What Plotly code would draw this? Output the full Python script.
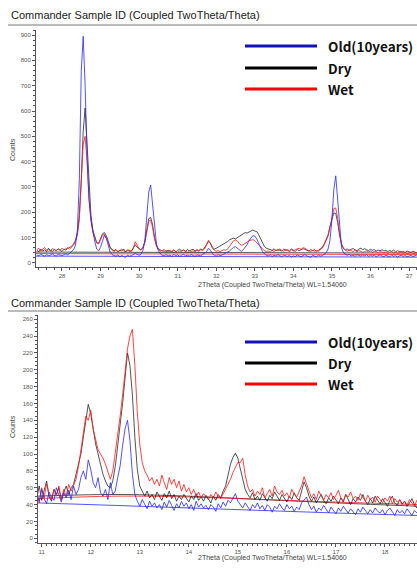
import numpy as np
import plotly.graph_objects as go

W, H = 417, 568
TITLE = "Commander Sample ID (Coupled TwoTheta/Theta)"
X_TITLE = "2Theta (Coupled TwoTheta/Theta) WL=1.54060"
Y_TITLE = "Counts"
SERIES = ["Old(10years)", "Dry", "Wet"]

# ---------------- top panel (2theta 27.35 .. 37.2, step 0.05) ----------------
top_start, top_step = 27.35, 0.05
top_old = [
    32, 28, 35, 30, 26, 33, 29, 31, 36, 30,
    27, 34, 31, 29, 33, 36, 32, 38, 44, 52,
    70, 130, 330, 760, 895, 700, 420, 250, 170, 120,
    85, 55, 48, 62, 90, 110, 96, 65, 42, 33,
    30, 26, 32, 24, 29, 27, 22, 31, 26, 29,
    33, 38, 34, 30, 35, 50, 90, 170, 280, 308,
    230, 130, 75, 48, 36, 30, 28, 33, 27, 31,
    25, 34, 29, 32, 26, 30, 35, 28, 31, 27,
    33, 29, 26, 32, 30, 28, 35, 38, 45, 58,
    50, 37, 30, 27, 33, 29, 31, 35, 38, 42,
    48, 55, 62, 64, 58, 50, 46, 52, 60, 72,
    88, 100, 108, 106, 95, 78, 60, 45, 36, 30,
    28, 32, 25, 30, 27, 33, 29, 24, 31, 28,
    26, 30, 23, 28, 25, 32, 27, 24, 29, 33,
    28, 25, 22, 30, 26, 24, 31, 27, 29, 33,
    40, 55, 90, 170, 290, 344, 250, 120, 60, 40,
    33, 30, 34, 28, 31, 26, 33, 29, 27, 32,
    28, 33, 26, 30, 27, 31, 24, 29, 32, 27,
    25, 30, 28, 24, 31, 26, 29, 23, 28, 30,
    26, 29, 24, 27, 30, 25, 28, 31, 26, 28,
]
top_dry = [
    50, 44, 55, 47, 52, 45, 58, 49, 46, 53,
    48, 56, 50, 45, 54, 51, 57, 60, 66, 75,
    90, 120, 190, 330, 520, 612, 470, 300, 190, 130,
    100, 80, 78, 95, 115, 120, 108, 85, 62, 52,
    48, 53, 45, 50, 47, 55, 44, 52, 49, 46,
    58, 72, 62, 55, 52, 62, 85, 130, 175, 180,
    150, 100, 70, 56, 50, 47, 53, 45, 50, 48,
    46, 52, 44, 49, 55, 47, 51, 45, 53, 48,
    50, 54, 47, 52, 49, 55, 51, 60, 72, 85,
    78, 62, 55, 58, 62, 66, 70, 75, 80, 85,
    92, 96, 98, 95, 100, 105, 110, 115, 120, 118,
    122, 128, 130, 126, 124, 112, 95, 80, 65, 58,
    55, 52, 50, 56, 48, 53, 51, 47, 54, 50,
    52, 48, 55, 50, 46, 53, 49, 52, 56, 54,
    50, 47, 53, 49, 52, 46, 50, 55, 62, 75,
    90, 110, 145, 175, 198, 195, 160, 110, 75, 58,
    52, 55, 50, 54, 57, 52, 48, 55, 58, 53,
    56, 52, 49, 54, 50, 53, 47, 51, 48, 52,
    47, 50, 45, 49, 46, 51, 44, 48, 46, 43,
    45, 42, 47, 44, 41, 46, 43, 40, 44, 42,
]
top_wet = [
    52, 58, 47, 55, 61, 50, 54, 46, 57, 53,
    49, 55, 51, 58, 52, 56, 60, 55, 62, 70,
    85, 110, 170, 300, 470, 500, 400, 260, 170, 120,
    95, 78, 75, 90, 108, 115, 100, 80, 58, 50,
    46, 52, 44, 49, 55, 47, 42, 50, 45, 48,
    60, 84, 70, 56, 50, 60, 80, 120, 165, 170,
    140, 95, 66, 52, 46, 50, 44, 49, 45, 47,
    43, 50, 46, 41, 48, 44, 52, 46, 42, 49,
    45, 48, 43, 50, 46, 52, 49, 56, 70, 90,
    78, 58, 50, 46, 49, 45, 48, 52, 50, 56,
    66, 80, 88, 91, 86, 76, 70, 72, 78, 84,
    88, 90, 92, 88, 80, 70, 60, 52, 48, 45,
    47, 43, 50, 45, 52, 48, 55, 50, 46, 53,
    49, 45, 51, 47, 52, 55, 58, 54, 60, 58,
    52, 48, 45, 50, 46, 49, 47, 52, 58, 72,
    88, 105, 140, 185, 215, 217, 175, 115, 72, 55,
    50, 46, 52, 48, 45, 50, 44, 49, 46, 42,
    45, 48, 43, 47, 41, 46, 44, 40, 45, 42,
    40, 44, 38, 42, 45, 39, 43, 37, 41, 44,
    38, 42, 36, 40, 43, 37, 39, 41, 35, 38,
]
top_bg_x = [27.3, 37.3]
top_bg_old = [27, 23]
top_bg_dry = [43, 39]
top_bg_wet = [37, 33]

# ---------------- bottom panel (2theta 10.90 .. 18.85, step 0.05) ----------------
bot_start, bot_step = 10.90, 0.05
bot_old = [
    52, 44, 58, 47, 41, 55, 49, 45, 60, 50,
    43, 54, 48, 57, 46, 62, 52, 58, 72, 80,
    70, 93, 82, 66, 60, 72, 54, 50, 58, 46,
    66, 52, 56, 72, 86, 110, 130, 140, 116, 76,
    52, 44, 38, 46, 40, 35, 44, 38, 42, 36,
    40, 34, 43, 37, 45, 39, 33, 41, 36, 44,
    38, 42, 35, 40, 33, 44, 37, 41, 36, 39,
    34, 40, 37, 32, 41, 36, 43, 38, 45, 42,
    48, 53, 44, 40, 36, 42, 38, 33, 40, 36,
    42, 35, 39, 33, 40, 37, 31, 38, 35, 41,
    36, 33, 40, 35, 38, 32, 37, 34, 42, 45,
    49, 40, 34, 38, 31, 36, 33, 39, 35, 30,
    37, 33, 29, 36, 32, 38, 34, 30, 35, 31,
    28, 35, 31, 37, 33, 29, 34, 30, 36, 32,
    30, 34, 28, 33, 36, 31, 27, 34, 30, 33,
    29, 35, 31, 27, 33, 30, 34, 28, 32, 30,
]
bot_dry = [
    48, 62, 45, 55, 68, 50, 44, 58, 52, 60,
    47, 55, 62, 52, 60, 64, 75, 88, 100, 120,
    140, 159, 148, 128, 112, 100, 88, 76, 68, 62,
    60, 68, 85, 110, 132, 160, 190, 220, 205, 170,
    120, 82, 62, 55, 50, 56, 48, 52, 46, 55,
    50, 45, 53, 48, 56, 47, 52, 44, 50, 46,
    52, 47, 43, 50, 46, 53, 45, 49, 44, 51,
    47, 42, 50, 45, 52, 48, 56, 62, 75, 88,
    96, 101, 95, 82, 68, 58, 52, 48, 54, 46,
    50, 45, 53, 48, 44, 51, 47, 55, 49, 45,
    52, 47, 43, 50, 46, 54, 48, 45, 58, 67,
    60, 50, 44, 49, 42, 47, 52, 45, 41, 48,
    44, 50, 46, 41, 48, 43, 52, 46, 40, 47,
    43, 49, 45, 52, 44, 40, 47, 42, 50, 45,
    41, 47, 43, 38, 45, 50, 42, 39, 46, 41,
    44, 38, 42, 47, 40, 36, 43, 39, 41, 40,
]
bot_wet = [
    55, 42, 60, 48, 65, 52, 46, 58, 50, 62,
    45, 58, 50, 64, 56, 62, 70, 85, 105, 130,
    145, 140, 152, 130, 118, 105, 100, 95, 88, 80,
    70, 80, 100, 120, 145, 170, 200, 225, 240, 248,
    205, 150, 112, 90, 80, 75, 68, 72, 64, 70,
    62, 75, 66, 58, 72, 64, 70, 60, 68, 56,
    64, 55, 60, 52, 58, 50, 55, 48, 53, 50,
    46, 52, 48, 55, 50, 47, 53, 58, 64, 70,
    78, 85, 90, 90, 95, 75, 62, 55, 58, 50,
    56, 52, 60, 48, 54, 58, 50, 62, 55, 52,
    57, 50, 54, 48, 58, 52, 49, 55, 62, 73,
    65, 55, 48, 53, 46, 56, 50, 45, 52, 48,
    54, 46, 51, 57, 48, 44, 52, 49, 55, 47,
    50, 45, 53, 48, 44, 51, 46, 49, 43, 50,
    46, 42, 48, 44, 50, 41, 47, 43, 45, 40,
    44, 39, 46, 42, 38, 45, 41, 43, 40, 42,
]
bot_bg_x = [10.9, 12.5, 14.0, 15.5, 17.0, 18.7]
bot_bg_old = [42, 39, 36, 33, 30, 27]
bot_bg_dry = [50, 52, 50, 46, 42, 38]
bot_bg_wet = [47, 50, 49, 46, 43, 40]

COL_OLD = "rgba(40,40,255,0.8)"
COL_DRY = "rgba(25,25,25,0.75)"
COL_WET = "rgba(255,25,25,0.8)"
LEG_COLS = ["#1010c0", "#000000", "#ff0000"]


def px(x):
    return x / W


def py(y):
    return 1 - y / H


def grid(start, step, vals):
    return np.round(start + step * np.arange(len(vals)), 3)


fig = go.Figure()

panels = [
    ("x", "y", top_start, top_step, top_old, top_dry, top_wet,
     top_bg_x, top_bg_old, top_bg_dry, top_bg_wet, "linear"),
    ("x2", "y2", bot_start, bot_step, bot_old, bot_dry, bot_wet,
     bot_bg_x, bot_bg_old, bot_bg_dry, bot_bg_wet, "spline"),
]
for xa, ya, s, st, o, d, w, bx, bo, bd, bw, shp in panels:
    for vals, col in [(bd, COL_DRY), (bw, COL_WET), (bo, COL_OLD)]:
        fig.add_trace(go.Scatter(x=bx, y=vals, mode="lines", xaxis=xa, yaxis=ya,
                                 line=dict(color=col, width=1, shape=shp),
                                 showlegend=False, hoverinfo="skip"))
    for name, vals, col in [("Dry", d, COL_DRY), ("Wet", w, COL_WET), ("Old(10years)", o, COL_OLD)]:
        fig.add_trace(go.Scatter(x=grid(s, st, vals), y=vals, mode="lines", name=name,
                                 xaxis=xa, yaxis=ya, line=dict(color=col, width=1),
                                 showlegend=False))

tickfont = dict(family="Liberation Sans, Arial", size=6, color="#555")
axis_common = dict(showgrid=False, zeroline=False, showline=True, linecolor="#555",
                   linewidth=1, ticks="outside", ticklen=3, tickcolor="#555",
                   tickfont=tickfont)

fig.update_layout(
    width=W, height=H, margin=dict(l=0, r=0, t=0, b=0),
    paper_bgcolor="white", plot_bgcolor="white", showlegend=False,
    xaxis=dict(domain=[px(36), 1.0], range=[27.326, 37.207], anchor="y",
               dtick=1, minor=dict(dtick=0.2, ticklen=2, tickcolor="#555", ticks="outside"),
               **axis_common),
    yaxis=dict(domain=[py(267), py(30)], range=[-16, 920], anchor="x",
               dtick=100, minor=dict(dtick=20, ticklen=2, tickcolor="#555", ticks="outside"),
               **axis_common),
    xaxis2=dict(domain=[px(38), 1.0], range=[10.925, 18.653], anchor="y2",
                dtick=1, minor=dict(dtick=0.1, ticklen=2, tickcolor="#555", ticks="outside"),
                **axis_common),
    yaxis2=dict(domain=[py(543), py(315)], range=[-5.6, 265], anchor="x2",
                dtick=20, minor=dict(dtick=5, ticklen=2, tickcolor="#555", ticks="outside"),
                **axis_common),
)

shapes = []
annots = []
for title_y, line_y, leg_ys, ytitle_y, xtitle_y in [
    (15, 25, [46, 68, 89], 150, 285),
    (303, 311, [342, 363, 384], 427, 558),
]:
    annots.append(dict(text=TITLE, x=px(9), y=py(title_y), xref="paper", yref="paper",
                       xanchor="left", yanchor="middle", showarrow=False,
                       font=dict(family="Liberation Sans, Arial", size=11, color="#222")))
    shapes.append(dict(type="line", xref="paper", yref="paper", x0=px(8), x1=1.0,
                       y0=py(line_y), y1=py(line_y), line=dict(color="#777", width=1)))
    for name, col, ly in zip(SERIES, LEG_COLS, leg_ys):
        shapes.append(dict(type="line", xref="paper", yref="paper", x0=px(245), x1=px(317),
                           y0=py(ly), y1=py(ly), line=dict(color=col, width=3)))
        annots.append(dict(text="<b>%s</b>" % name, x=px(326), y=py(ly), xref="paper",
                           yref="paper", xanchor="left", yanchor="middle", showarrow=False,
                           font=dict(family="Noto Sans CJK KR, Noto Sans", size=13.5, color="#111")))
    annots.append(dict(text=Y_TITLE, x=px(12), y=py(ytitle_y), xref="paper", yref="paper",
                       xanchor="center", yanchor="middle", textangle=-90, showarrow=False,
                       font=dict(family="Liberation Sans, Arial", size=7, color="#444")))
    annots.append(dict(text=X_TITLE, x=px(272), y=py(xtitle_y), xref="paper", yref="paper",
                       xanchor="center", yanchor="middle", showarrow=False,
                       font=dict(family="Liberation Sans, Arial", size=7, color="#444")))

fig.update_layout(shapes=shapes, annotations=annots)
fig.write_html("out.html", config={"displayModeBar": False},
               post_script="document.body.style.margin='0';document.body.style.overflow='hidden';")
